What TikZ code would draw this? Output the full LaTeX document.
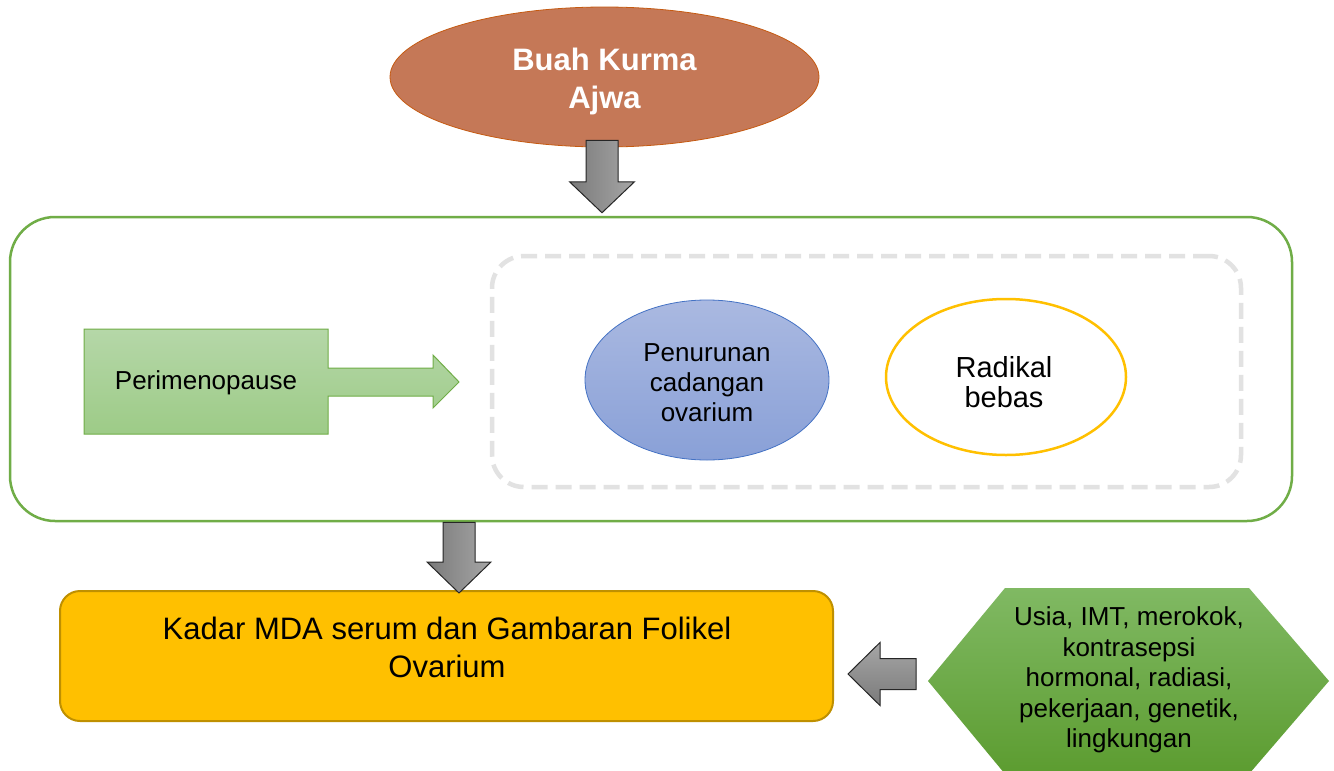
\documentclass[tikz,border=0pt]{standalone}
\usepackage{fontspec}
\setmainfont{Liberation Sans}
\usetikzlibrary{calc,shapes.geometric}
\definecolor{ajwa}{HTML}{C57857}
\definecolor{ajwaline}{HTML}{C55A11}
\definecolor{grn}{HTML}{70AD47}
\definecolor{grntop}{HTML}{B5D7A8}
\definecolor{grnbot}{HTML}{9DCB87}
\definecolor{dashgray}{HTML}{E2E2E2}
\definecolor{bluetop}{HTML}{AAB9E1}
\definecolor{bluebot}{HTML}{89A0D7}
\definecolor{blueline}{HTML}{4472C4}
\definecolor{gold}{HTML}{FFC000}
\definecolor{goldline}{HTML}{BF9000}
\definecolor{hextop}{HTML}{80B963}
\definecolor{hexbot}{HTML}{5C9C30}
\definecolor{arrdark}{HTML}{7A7A7A}
\definecolor{arrlight}{HTML}{A6A6A6}
\tikzset{
  ajwabox/.style={ellipse, fill=ajwa, draw=ajwaline, line width=0.8pt, inner sep=0pt,
    minimum width=429, minimum height=140},
  ajwatext/.style={inner sep=0pt, align=center, text=white,
    font=\fontsize{31}{38}\selectfont\bfseries},
  outerbox/.style={rectangle, draw=grn, line width=2.5pt, rounded corners=45pt,
    minimum width=1282, minimum height=304, inner sep=0pt},
  dashbox/.style={rectangle, draw=dashgray, line width=4.5pt, rounded corners=32pt,
    dash pattern=on 16pt off 8pt, minimum width=749, minimum height=231, inner sep=0pt},
  blueell/.style={ellipse, top color=bluetop, bottom color=bluebot, draw=blueline,
    line width=0.8pt, minimum width=244, minimum height=160, inner sep=0pt},
  yellell/.style={ellipse, fill=white, draw=gold, line width=2.5pt,
    minimum width=240, minimum height=156, inner sep=0pt},
  kadarbox/.style={rectangle, fill=gold, draw=goldline, line width=2pt, rounded corners=20pt,
    minimum width=773, minimum height=130, inner sep=0pt},
  plaintext/.style={inner sep=0pt, align=center},
  grayarrow/.style={draw=black!85, line width=1pt, left color=arrdark, right color=arrlight},
  grayarrowh/.style={draw=black!85, line width=1pt, top color=arrlight, bottom color=arrdark},
  callout/.style={draw=grn, line width=1pt, top color=grntop, bottom color=grnbot},
  hexshape/.style={top color=hextop, bottom color=hexbot, draw=none}
}
\begin{document}
\begin{tikzpicture}[x=1pt,y=-1pt]
\useasboundingbox (0,0) rectangle (1334,771);
\fill[white] (0,0) rectangle (1334,771);

% outer container and dashed group
\node[outerbox] (big) at (651,369) {};
\node[dashbox] (grp) at (866.5,371.5) {};

% Perimenopause callout shape
\draw[callout] (84,329) -- (328,329) -- (328,368) -- (433,368) -- (433,355) -- (459,382)
  -- (433,408) -- (433,396) -- (328,396) -- (328,434) -- (84,434) -- cycle;
\node[plaintext, font=\fontsize{26}{30}\selectfont] (peri) at (206,383) {Perimenopause};

% ellipses
\node[blueell] (pen) at (707,380) {};
\node[plaintext, font=\fontsize{26}{30}\selectfont] (pentxt) at (707,383) {Penurunan\\cadangan\\ovarium};
\node[yellell] (rad) at (1006,377) {};
\node[plaintext, font=\fontsize{29}{30}\selectfont] (radtxt) at (1004,382) {Radikal\\bebas};

% top ellipse
\node[ajwabox] (ajwa) at (604.5,77) {};
\node[ajwatext] (ajwatxt) at (604.5,81) {Buah Kurma\\Ajwa};

% bottom box
\node[kadarbox] (kadar) at (446.5,656) {};
\node[plaintext, font=\fontsize{31}{38}\selectfont] (kadartxt) at (447,647)
  {Kadar MDA serum dan Gambaran Folikel\\Ovarium};

% hexagon
\draw[hexshape] (1005,588) -- (1249,588) -- (1329,681) -- (1249,774) -- (1005,774) -- (928,681) -- cycle;
\node[plaintext, font=\fontsize{26}{30.5}\selectfont] (hex) at (1129,680)
  {Usia, IMT, merokok,\\kontrasepsi\\hormonal, radiasi,\\pekerjaan, genetik,\\lingkungan};

% block arrows
\coordinate (a1s) at ($(ajwa.south)+(-2.5,-7)$);
\coordinate (a1e) at ($(a1s |- big.north)+(0,-3)$);
\draw[grayarrow] let \p1=(a1s), \p2=(a1e) in
  (\x1-16pt,\y1) -- (\x1+16pt,\y1) -- (\x1+16pt,\y2+31pt) -- (\x1+32.5pt,\y2+31pt)
  -- (\x1,\y2) -- (\x1-32.5pt,\y2+31pt) -- (\x1-16pt,\y2+31pt) -- cycle;

\coordinate (a2s) at ($(big.south)+(-192,0)$);
\coordinate (a2e) at ($(a2s |- kadar.north)+(0,3)$);
\draw[grayarrow] let \p1=(a2s), \p2=(a2e) in
  (\x1-16pt,\y1) -- (\x1+16pt,\y1) -- (\x1+16pt,\y2+31pt) -- (\x1+32pt,\y2+31pt)
  -- (\x1,\y2) -- (\x1-32pt,\y2+31pt) -- (\x1-16pt,\y2+31pt) -- cycle;

\coordinate (a3s) at (916,674);
\coordinate (a3e) at ($(kadar.east |- a3s)+(14,0)$);
\draw[grayarrowh] let \p1=(a3s), \p2=(a3e) in
  (\x1,\y1+15.5pt) -- (\x1,\y1-15.5pt) -- (\x2+32pt,\y1-15.5pt) -- (\x2+32pt,\y1-31.5pt)
  -- (\x2,\y1) -- (\x2+32pt,\y1+31.5pt) -- (\x2+32pt,\y1+15.5pt) -- cycle;
\end{tikzpicture}
\end{document}
